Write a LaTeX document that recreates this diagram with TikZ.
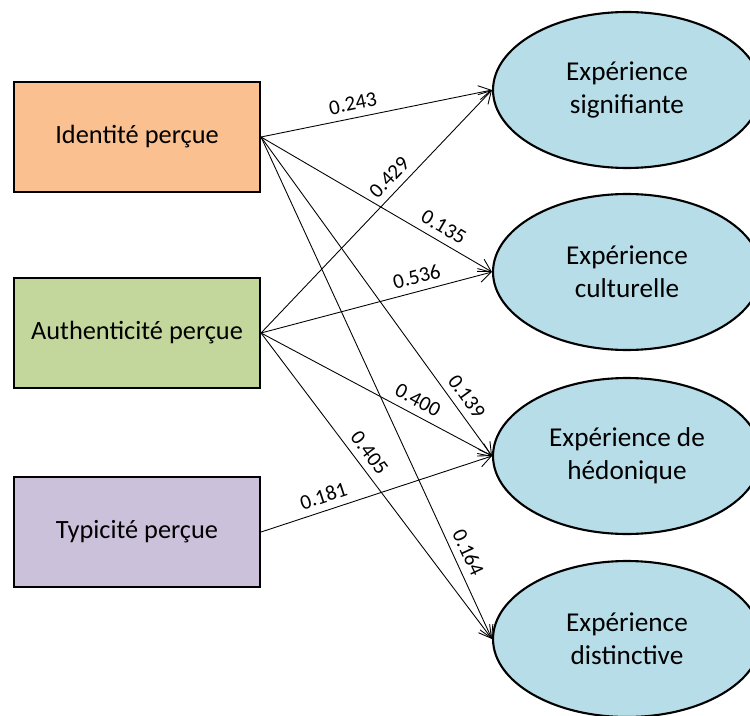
\documentclass[tikz,border=0pt]{standalone}
\usepackage{fontspec}
\setmainfont{Carlito}
\usepackage{xcolor}
\usetikzlibrary{arrows.meta,shapes.geometric}
\definecolor{idcol}{RGB}{250,192,144}
\definecolor{aucol}{RGB}{195,214,155}
\definecolor{tycol}{RGB}{204,193,218}
\definecolor{excol}{RGB}{183,222,232}

\begin{document}
\begin{tikzpicture}[x=0.02cm,y=-0.02cm,
            cause/.style={draw,line width=1.2pt,minimum width=4.92cm,minimum height=2.2cm,font=\fontsize{15}{18}\selectfont},
            effet/.style={draw,ellipse,line width=1.2pt,minimum width=5.36cm,minimum height=3.12cm,fill=excol,align=center,font=\fontsize{15.5}{19}\selectfont},
            lien/.style={line width=0.5pt,-{Straight Barb[length=7pt,width=8pt]}},
            coef/.style={font=\fontsize{12}{13}\selectfont,sloped,above,inner sep=4pt}]
            \useasboundingbox (0,0) rectangle (750,716);
            
            \node[cause,fill=idcol] (ident) at (137,137) {Identité perçue};
            \node[cause,fill=aucol] (authen) at (137,333) {Authenticité perçue};
            \node[cause,fill=tycol] (typic) at (137,532) {Typicité perçue};
            
            \node[effet] (signif) at (627,90) {Expérience\\signifiante};
            \node[effet] (cultu) at (627,272) {Expérience\\culturelle};
            \node[effet] (hedon) at (627,456) {Expérience de\\hédonique};
            \node[effet] (disti) at (627,639) {Expérience\\distinctive};
            
            \draw[lien] (ident.east) -- (signif.west) node[coef,pos=.41] {0.243};
            \draw[lien] (authen.east) -- (signif.west) node[coef,pos=.6] {0.429};
            \draw[lien] (ident.east) -- (cultu.west) node[coef,pos=.76] {0.135};
            \draw[lien] (authen.east) -- (cultu.west) node[coef,pos=.69] {0.536};
            \draw[lien] (ident.east) -- (hedon.west) node[coef,pos=.84] {0.139};
            \draw[lien] (authen.east) -- (hedon.west) node[coef,pos=.65] {0.400};
            \draw[lien] (typic.east) -- (hedon.west) node[coef,pos=.29] {0.181};
            \draw[lien] (ident.east) -- (disti.west) node[coef,pos=.84] {0.164};
            \draw[lien] (authen.east) -- (disti.west) node[coef,pos=.42] {0.405};
         \end{tikzpicture}
\end{document}
